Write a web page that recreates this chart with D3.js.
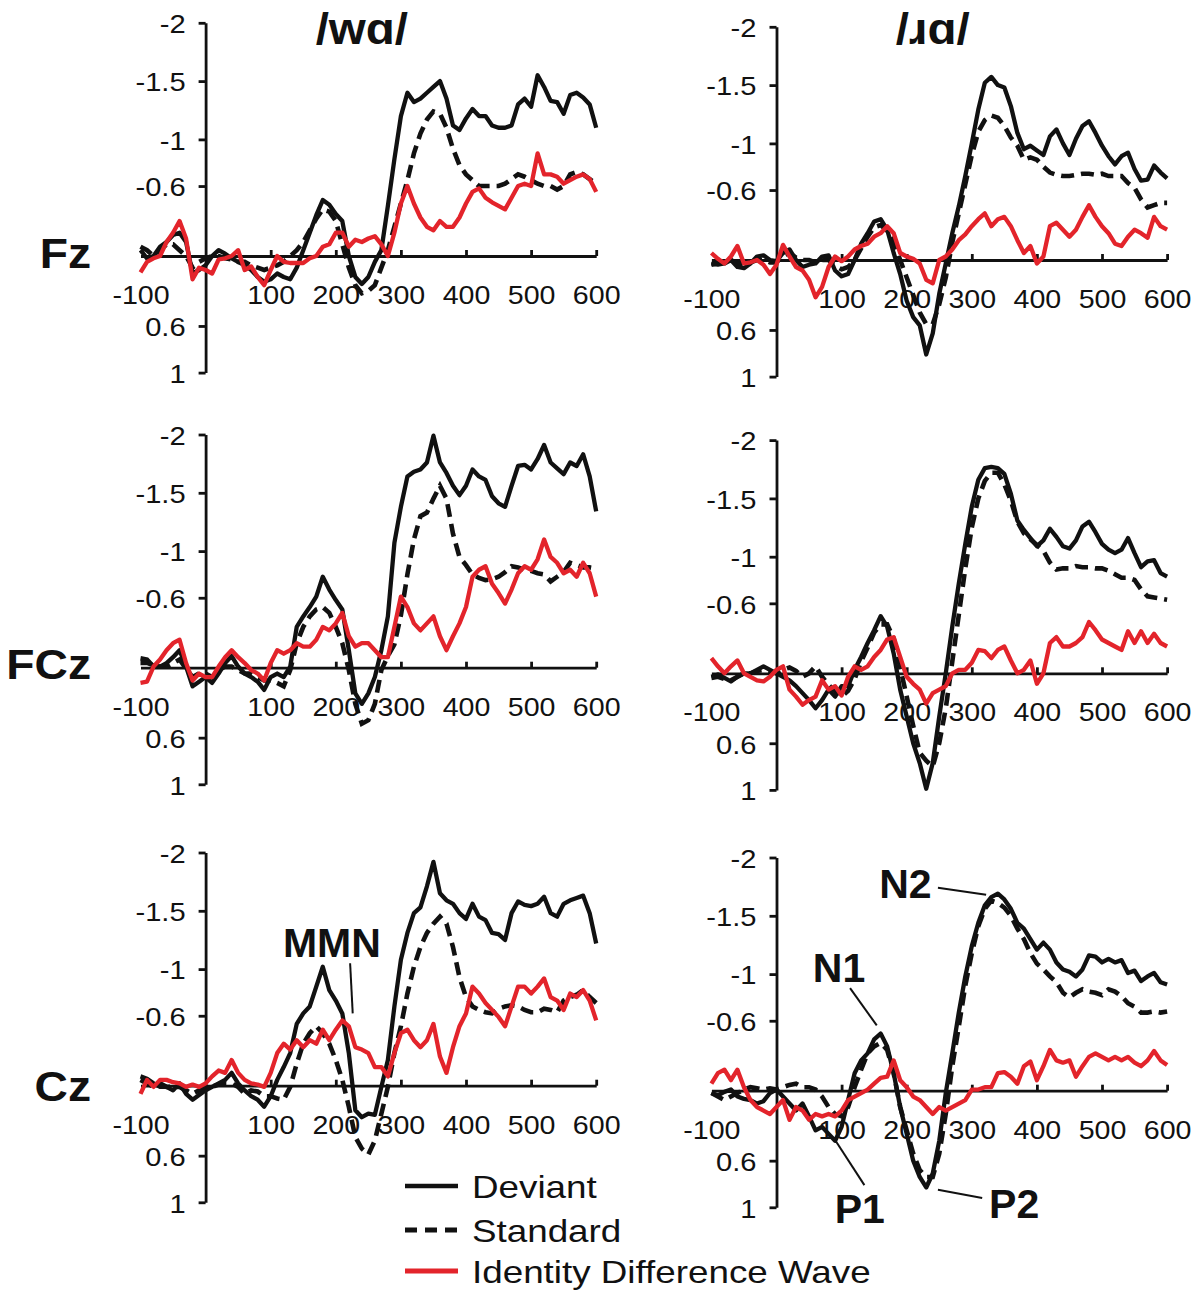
<html><head>
<meta charset="utf-8">
<title>ERP waveforms: /wɑ/ and /ɹɑ/</title>
<style>
  body { margin: 0; background: #fff; }
  svg text { font-family: "Liberation Sans", Arial, Helvetica, sans-serif; fill: #111; }
</style>
<script src="https://d3js.org/d3.v7.min.js"></script>
</head>
<body>
<div id="chart"></div>
<script>
// time axis (ms), one sample every 10 ms
const times = [-100, -90, -80, -70, -60, -50, -40, -30, -20, -10,
  0, 10, 20, 30, 40, 50, 60, 70, 80, 90,
  100, 110, 120, 130, 140, 150, 160, 170, 180, 190,
  200, 210, 220, 230, 240, 250, 260, 270, 280, 290,
  300, 310, 320, 330, 340, 350, 360, 370, 380, 390,
  400, 410, 420, 430, 440, 450, 460, 470, 480, 490,
  500, 510, 520, 530, 540, 550, 560, 570, 580, 590,
  600];

const rowNames = ["Fz", "FCz", "Cz"];
const colNames = ["/wɑ/", "/ɹɑ/"];
const xTicks = [-100, 100, 200, 300, 400, 500, 600];
const yTicks = [-2, -1.5, -1, -0.6, 0.6, 1];
const legendNames = ["Deviant", "Standard", "Identity Difference Wave"];

// ---- Fz ----
const fzWaDev = [-0.05, 0.02, 0.0, -0.08, -0.12, -0.18, -0.2, -0.12, 0.15, 0.12,
  0.08, 0.0, -0.05, -0.02, 0.02, 0.05, 0.08, 0.12, 0.18, 0.22,
  0.2, 0.15, 0.18, 0.2, 0.1, -0.05, -0.2, -0.35, -0.48, -0.44,
  -0.36, -0.3, 0.0, 0.18, 0.24, 0.18, 0.05, -0.05, -0.43, -0.83,
  -1.2, -1.4, -1.32, -1.35, -1.4, -1.45, -1.5, -1.35, -1.12, -1.08,
  -1.18, -1.26, -1.2, -1.2, -1.12, -1.1, -1.1, -1.12, -1.3, -1.35,
  -1.28, -1.55, -1.45, -1.33, -1.32, -1.22, -1.38, -1.4, -1.36, -1.3,
  -1.1];
const fzWaStd = [-0.08, -0.05, 0.0, -0.05, -0.1, -0.1, -0.05, 0.0, 0.1, 0.05,
  0.02, 0.0, 0.0, 0.02, 0.03, 0.05, 0.05, 0.08, 0.1, 0.12,
  0.1, 0.08, 0.05, 0.0, -0.05, -0.12, -0.22, -0.32, -0.4, -0.38,
  -0.3, -0.1, 0.1, 0.25, 0.32, 0.3, 0.25, 0.1, -0.05, -0.25,
  -0.45, -0.65, -0.88, -1.05, -1.17, -1.24, -1.22, -1.1, -0.92, -0.78,
  -0.7, -0.65, -0.6, -0.6, -0.6, -0.6, -0.62, -0.66, -0.7, -0.68,
  -0.65, -0.62, -0.6, -0.6, -0.57, -0.6, -0.7, -0.72, -0.7, -0.66,
  -0.62];
const fzWaDiff = [0.14, 0.05, 0.02, 0.0, -0.12, -0.2, -0.3, -0.15, 0.2, 0.1,
  0.12, 0.15, 0.03, 0.02, 0.0, -0.05, 0.12, 0.09, 0.18, 0.25,
  0.12, 0.0, 0.05, 0.06, 0.06, 0.06, 0.02, 0.0, -0.08, -0.1,
  -0.2, -0.2, -0.08, -0.14, -0.12, -0.15, -0.17, -0.1, 0.0, -0.2,
  -0.45, -0.6, -0.45, -0.33, -0.25, -0.22, -0.3, -0.25, -0.25, -0.33,
  -0.45, -0.55, -0.58, -0.5, -0.46, -0.43, -0.4, -0.5, -0.6, -0.62,
  -0.6, -0.88, -0.7, -0.7, -0.68, -0.62, -0.65, -0.68, -0.7, -0.66,
  -0.55];
const fzRaDev = [0.03, 0.04, 0.03, 0.0, 0.06, 0.07, 0.03, -0.03, -0.04, 0.0,
  0.01, -0.06, -0.09, 0.0, 0.06, 0.04, 0.03, -0.03, -0.04, 0.09,
  0.14, 0.12, 0.0, -0.14, -0.23, -0.33, -0.35, -0.26, -0.06, 0.12,
  0.35, 0.49, 0.56, 0.81, 0.63, 0.29, 0.03, -0.23, -0.46, -0.72,
  -1.0, -1.29, -1.52, -1.57, -1.5, -1.48, -1.32, -1.09, -0.95, -0.98,
  -0.94, -0.9, -1.06, -1.12, -1.0, -0.9, -1.04, -1.15, -1.19, -1.09,
  -0.98, -0.89, -0.82, -0.89, -0.92, -0.78, -0.68, -0.69, -0.81, -0.75,
  -0.7];
const fzRaStd = [0.04, 0.03, 0.02, 0.0, 0.03, 0.04, 0.02, 0.0, 0.0, 0.02,
  0.02, -0.04, -0.06, -0.02, 0.0, 0.0, 0.02, 0.0, 0.0, 0.05,
  0.08, 0.06, 0.0, -0.1, -0.2, -0.28, -0.3, -0.25, -0.15, 0.0,
  0.15, 0.3, 0.45, 0.55, 0.55, 0.38, 0.15, -0.15, -0.4, -0.65,
  -0.9, -1.1, -1.2, -1.24, -1.22, -1.15, -1.05, -0.98, -0.86, -0.88,
  -0.86, -0.8, -0.75, -0.73, -0.72, -0.72, -0.73, -0.74, -0.74, -0.73,
  -0.74, -0.72, -0.72, -0.72, -0.66, -0.62, -0.52, -0.45, -0.47, -0.49,
  -0.49];
const fzRaDiff = [-0.06, -0.01, 0.03, -0.03, -0.12, 0.03, 0.02, 0.0, 0.04, 0.12,
  0.04, -0.13, -0.03, 0.06, 0.09, 0.17, 0.32, 0.23, 0.06, -0.03,
  0.01, -0.03, -0.09, -0.12, -0.14, -0.2, -0.23, -0.29, -0.23, -0.06,
  -0.03, -0.01, 0.03, 0.17, 0.2, 0.0, -0.03, -0.09, -0.17, -0.22,
  -0.29, -0.35, -0.4, -0.29, -0.35, -0.37, -0.29, -0.17, -0.06, -0.12,
  0.03, -0.03, -0.29, -0.32, -0.26, -0.2, -0.26, -0.37, -0.47, -0.37,
  -0.29, -0.23, -0.14, -0.12, -0.2, -0.26, -0.23, -0.19, -0.37, -0.29,
  -0.26];

// ---- FCz ----
const fczWaDev = [-0.04, -0.04, -0.02, -0.01, -0.04, -0.09, -0.15, -0.01, 0.16, 0.12,
  0.08, 0.13, 0.05, -0.04, -0.1, -0.01, 0.05, 0.08, 0.12, 0.19,
  0.08, 0.05, 0.08, -0.01, -0.35, -0.44, -0.52, -0.61, -0.78, -0.67,
  -0.58, -0.5, -0.15, 0.22, 0.31, 0.22, 0.08, -0.15, -0.44, -1.07,
  -1.38, -1.64, -1.68, -1.7, -1.76, -1.99, -1.76, -1.67, -1.56, -1.48,
  -1.56, -1.7, -1.64, -1.61, -1.47, -1.41, -1.38, -1.56, -1.73, -1.74,
  -1.7, -1.79, -1.91, -1.76, -1.71, -1.66, -1.76, -1.73, -1.83, -1.64,
  -1.34];
const fczWaStd = [-0.08, -0.07, -0.01, -0.01, -0.01, -0.04, -0.07, 0.01, 0.08, 0.05,
  0.05, 0.08, 0.02, -0.01, -0.01, 0.02, 0.05, 0.05, 0.08, 0.11,
  0.11, 0.13, 0.16, 0.02, -0.21, -0.35, -0.44, -0.5, -0.52, -0.47,
  -0.35, -0.21, 0.02, 0.31, 0.48, 0.45, 0.31, 0.02, -0.1, -0.2,
  -0.45, -0.8, -1.1, -1.3, -1.33, -1.45, -1.56, -1.45, -1.15, -0.95,
  -0.88, -0.8, -0.77, -0.75, -0.76, -0.78, -0.82, -0.87, -0.86, -0.84,
  -0.83, -0.81, -0.8, -0.74, -0.78, -0.82, -0.9, -0.88, -0.86, -0.86,
  -0.85];
const fczWaDiff = [0.13, 0.12, -0.01, -0.07, -0.15, -0.21, -0.24, -0.04, 0.11, 0.05,
  0.08, 0.08, -0.01, -0.09, -0.15, -0.09, -0.04, 0.02, 0.05, 0.11,
  -0.04, -0.15, -0.12, -0.15, -0.21, -0.18, -0.18, -0.24, -0.35, -0.32,
  -0.38, -0.47, -0.27, -0.18, -0.21, -0.21, -0.15, -0.09, -0.09, -0.35,
  -0.61, -0.52, -0.38, -0.32, -0.38, -0.44, -0.27, -0.15, -0.27, -0.38,
  -0.52, -0.78, -0.84, -0.87, -0.72, -0.64, -0.55, -0.67, -0.81, -0.87,
  -0.84, -0.93, -1.1, -0.95, -0.9, -0.81, -0.84, -0.78, -0.9, -0.81,
  -0.61];
const fczRaDev = [0.03, 0.01, 0.04, 0.07, 0.03, 0.0, 0.0, -0.03, -0.06, -0.03,
  0.0, 0.03, 0.06, 0.11, 0.17, 0.23, 0.3, 0.23, 0.14, 0.2,
  0.11, 0.11, -0.03, -0.14, -0.26, -0.37, -0.49, -0.4, -0.17, 0.14,
  0.37, 0.6, 0.77, 0.99, 0.77, 0.37, 0.0, -0.4, -0.77, -1.11,
  -1.43, -1.66, -1.76, -1.77, -1.76, -1.71, -1.54, -1.31, -1.23, -1.16,
  -1.09, -1.14, -1.24, -1.17, -1.09, -1.07, -1.14, -1.26, -1.3, -1.21,
  -1.11, -1.06, -1.03, -1.06, -1.16, -1.03, -0.91, -0.96, -0.97, -0.86,
  -0.83];
const fczRaStd = [0.04, 0.03, 0.05, 0.06, 0.03, 0.0, 0.0, -0.02, -0.03, -0.02,
  0.0, -0.03, -0.05, -0.02, 0.03, 0.0, -0.06, 0.03, 0.1, 0.15,
  0.2, 0.15, 0.05, -0.1, -0.22, -0.35, -0.42, -0.42, -0.3, -0.05,
  0.2, 0.45, 0.68, 0.75, 0.8, 0.6, 0.3, -0.1, -0.5, -0.9,
  -1.25, -1.5, -1.65, -1.72, -1.72, -1.62, -1.48, -1.3, -1.2, -1.15,
  -1.1, -1.05, -0.95, -0.89, -0.9, -0.9, -0.92, -0.91, -0.91, -0.9,
  -0.9, -0.88, -0.85, -0.82, -0.82, -0.8, -0.72, -0.66, -0.65, -0.64,
  -0.63];
const fczRaDiff = [-0.13, -0.06, 0.0, -0.06, -0.11, 0.0, 0.03, 0.06, 0.07, 0.03,
  -0.03, -0.06, 0.14, 0.2, 0.27, 0.23, 0.2, 0.06, 0.14, 0.11,
  0.19, 0.03, -0.06, -0.03, -0.06, -0.14, -0.2, -0.29, -0.31, -0.14,
  0.03, 0.09, 0.14, 0.26, 0.17, 0.14, 0.11, 0.0, -0.03, -0.03,
  -0.09, -0.2, -0.19, -0.13, -0.2, -0.23, -0.11, 0.0, -0.03, -0.11,
  0.09, 0.0, -0.26, -0.31, -0.23, -0.23, -0.26, -0.31, -0.44, -0.37,
  -0.29, -0.26, -0.23, -0.2, -0.36, -0.26, -0.36, -0.26, -0.34, -0.26,
  -0.23];

// ---- Cz ----
const czWaDev = [-0.08, -0.06, -0.02, 0.01, 0.01, 0.04, -0.02, 0.07, 0.12, 0.08,
  0.04, 0.01, -0.02, -0.05, -0.11, -0.02, 0.04, 0.09, 0.12, 0.18,
  0.09, -0.05, -0.16, -0.28, -0.53, -0.62, -0.68, -0.85, -1.02, -0.82,
  -0.73, -0.62, -0.28, 0.21, 0.27, 0.24, 0.25, 0.01, -0.22, -0.68,
  -1.08, -1.31, -1.48, -1.53, -1.71, -1.92, -1.65, -1.59, -1.56, -1.48,
  -1.43, -1.56, -1.45, -1.42, -1.31, -1.3, -1.25, -1.48, -1.58, -1.55,
  -1.54, -1.56, -1.62, -1.48, -1.45, -1.56, -1.59, -1.61, -1.63, -1.48,
  -1.22];
const czWaStd = [-0.05, -0.02, 0.01, -0.02, 0.01, 0.01, 0.01, 0.04, 0.07, 0.04,
  0.02, 0.01, -0.01, -0.02, -0.02, 0.01, 0.07, 0.04, 0.05, 0.09,
  0.09, 0.11, 0.12, 0.01, -0.19, -0.36, -0.45, -0.51, -0.45, -0.36,
  -0.22, -0.05, 0.18, 0.44, 0.54, 0.59, 0.47, 0.24, 0.01, -0.28,
  -0.51, -0.79, -1.02, -1.19, -1.31, -1.39, -1.45, -1.39, -1.19, -0.93,
  -0.76, -0.68, -0.65, -0.63, -0.62, -0.66, -0.68, -0.69, -0.68, -0.65,
  -0.63, -0.63, -0.66, -0.65, -0.63, -0.73, -0.76, -0.78, -0.82, -0.76,
  -0.71];
const czWaDiff = [0.07, -0.05, 0.01, -0.05, -0.05, -0.03, -0.02, 0.01, -0.01, 0.01,
  -0.02, -0.08, -0.13, -0.11, -0.22, -0.11, -0.05, -0.02, -0.01, 0.01,
  -0.11, -0.28, -0.36, -0.31, -0.39, -0.33, -0.39, -0.36, -0.48, -0.39,
  -0.48, -0.56, -0.51, -0.33, -0.31, -0.28, -0.16, -0.16, -0.08, -0.28,
  -0.45, -0.48, -0.39, -0.33, -0.39, -0.53, -0.25, -0.11, -0.33, -0.51,
  -0.62, -0.85, -0.79, -0.71, -0.65, -0.59, -0.51, -0.68, -0.85, -0.85,
  -0.79, -0.85, -0.92, -0.76, -0.73, -0.65, -0.79, -0.76, -0.82, -0.73,
  -0.56];
const czRaDev = [0.02, 0.04, 0.01, -0.01, 0.05, 0.07, 0.08, 0.11, 0.09, 0.02,
  -0.01, 0.05, 0.11, 0.17, 0.11, 0.22, 0.34, 0.31, 0.37, 0.43,
  0.31, 0.08, -0.15, -0.26, -0.32, -0.44, -0.49, -0.38, -0.15, 0.14,
  0.37, 0.6, 0.74, 0.83, 0.71, 0.43, 0.02, -0.32, -0.67, -0.98,
  -1.24, -1.44, -1.59, -1.66, -1.69, -1.64, -1.56, -1.44, -1.39, -1.3,
  -1.21, -1.27, -1.21, -1.1, -1.04, -1.02, -0.98, -1.04, -1.16, -1.15,
  -1.1, -1.13, -1.1, -1.12, -1.01, -1.03, -0.94, -0.98, -1.01, -0.93,
  -0.91];
const czRaStd = [0.02, 0.05, 0.08, 0.05, 0.02, -0.01, -0.03, -0.02, -0.01, -0.02,
  -0.01, -0.03, -0.05, -0.06, -0.03, -0.03, -0.01, 0.05, 0.14, 0.2,
  0.22, 0.14, -0.03, -0.18, -0.32, -0.38, -0.41, -0.35, -0.15, 0.14,
  0.34, 0.54, 0.68, 0.74, 0.74, 0.54, 0.2, -0.21, -0.55, -0.9,
  -1.18, -1.41, -1.56, -1.63, -1.61, -1.57, -1.5, -1.39, -1.3, -1.18,
  -1.09, -1.04, -0.98, -0.93, -0.84, -0.8, -0.84, -0.87, -0.85, -0.84,
  -0.82, -0.87, -0.85, -0.81, -0.75, -0.72, -0.67, -0.67, -0.68, -0.67,
  -0.68];
const czRaDiff = [-0.06, -0.15, -0.18, -0.09, -0.18, -0.03, 0.08, 0.14, 0.17, 0.2,
  0.14, 0.08, 0.25, 0.14, 0.17, 0.25, 0.2, 0.22, 0.2, 0.22,
  0.17, 0.08, 0.05, 0.02, -0.01, -0.06, -0.11, -0.12, -0.26, -0.09,
  -0.03, 0.05, 0.08, 0.14, 0.2, 0.14, 0.17, 0.14, 0.11, 0.08,
  -0.01, -0.01, -0.03, -0.03, -0.15, -0.16, -0.12, -0.06, -0.21, -0.25,
  -0.09, -0.21, -0.35, -0.26, -0.24, -0.26, -0.12, -0.21, -0.29, -0.32,
  -0.29, -0.26, -0.29, -0.26, -0.29, -0.24, -0.21, -0.26, -0.34, -0.26,
  -0.22];

// which series belong to which panel [row][col]
const panelData = [
  [{ dev: fzWaDev, std: fzWaStd, diff: fzWaDiff }, { dev: fzRaDev, std: fzRaStd, diff: fzRaDiff }],
  [{ dev: fczWaDev, std: fczWaStd, diff: fczWaDiff }, { dev: fczRaDev, std: fczRaStd, diff: fczRaDiff }],
  [{ dev: czWaDev, std: czWaStd, diff: czWaDiff }, { dev: czRaDev, std: czRaStd, diff: czRaDiff }]
];

// peak labels, placed in data units of their panel
const annotations = [
  { row: 2, col: 0, text: "MMN", t: 194, v: -1.1, line: [[222, -1.05], [226, -0.62]] },
  { row: 2, col: 1, text: "N2", t: 198, v: -1.65, line: [[248, -1.74], [322, -1.68]] },
  { row: 2, col: 1, text: "N1", t: 96, v: -0.93, line: [[113, -0.88], [154, -0.56]] },
  { row: 2, col: 1, text: "P1", t: 128, v: 1.135, line: [[92, 0.44], [135, 0.81]] },
  { row: 2, col: 1, text: "P2", t: 365, v: 1.09, line: [[248, 0.85], [316, 0.92]] }
];

// ---- layout ----
const width = 1191, height = 1300;
const colZeroX = [205.6, 776.5];
const rowZeroY = [[256, 667.7, 1085.7], [260, 673.3, 1090.7]];
const rowLabelY = [268, 679, 1101];
const pxPer100 = 65.1, pxPerUnit = 116.6;
const red = "#e3242b", ink = "#111";

const svg = d3.select("#chart").append("svg")
  .attr("width", width).attr("height", height);

// the original figure is slightly stretched sideways; widen glyphs to match
function stretch(sel, sx) {
  sel.each(function() {
    const t = d3.select(this);
    const x = +t.attr("x") || 0, y = +t.attr("y") || 0;
    t.attr("transform", `translate(${x},${y}) scale(${sx},1) translate(${-x},${-y})`);
  });
}

function scalesFor(r, c) {
  const x0 = colZeroX[c], y0 = rowZeroY[c][r];
  const x = d3.scaleLinear().domain([-100, 600]).range([x0 - pxPer100, x0 + 6 * pxPer100]);
  const y = d3.scaleLinear().domain([-2, 1]).range([y0 - 2 * pxPerUnit, y0 + pxPerUnit]);
  return { x, y };
}

// plain hyphen minus, as in the original labels
const plain = d => String(d);

for (let r = 0; r < 3; r++) {
  for (let c = 0; c < 2; c++) {
    const { x, y } = scalesFor(r, c);
    const g = svg.append("g");

    // y axis through t = 0
    const ya = g.append("g")
      .attr("transform", `translate(${x(0)},0)`)
      .call(d3.axisLeft(y).tickValues(yTicks).tickSize(7).tickSizeOuter(0)
        .tickPadding(13).tickFormat(plain));
    ya.select(".domain").attr("stroke", ink).attr("stroke-width", 2.8);
    ya.selectAll(".tick line").attr("stroke", ink).attr("stroke-width", 2.8);
    ya.selectAll("text").attr("font-size", 26).attr("dy", "0.38em")
      .attr("font-family", "Liberation Sans, Arial, sans-serif").attr("fill", ink);
    stretch(ya.selectAll("text"), 1.12);

    // x axis through 0 µV
    const xa = g.append("g")
      .attr("transform", `translate(0,${y(0)})`)
      .call(d3.axisBottom(x).tickValues(xTicks).tickSize(-6).tickSizeOuter(0)
        .tickPadding(29.5).tickFormat(plain));
    xa.select(".domain").attr("stroke", ink).attr("stroke-width", 2.8);
    xa.selectAll(".tick line").attr("stroke", ink).attr("stroke-width", 2.8)
      .attr("opacity", d => d === -100 ? 0 : 1);
    xa.selectAll("text").attr("font-size", 26)
      .attr("font-family", "Liberation Sans, Arial, sans-serif").attr("fill", ink);
    stretch(xa.selectAll("text"), 1.1);

    const line = vals => d3.line()
      .x((d, i) => x(times[i]))
      .y(d => y(d))(vals);

    const p = panelData[r][c];
    g.append("path").attr("d", line(p.std)).attr("fill", "none")
      .attr("stroke", ink).attr("stroke-width", 4.6).attr("stroke-dasharray", "13,7");
    g.append("path").attr("d", line(p.dev)).attr("fill", "none")
      .attr("stroke", ink).attr("stroke-width", 4.3).attr("stroke-linejoin", "round");
    g.append("path").attr("d", line(p.diff)).attr("fill", "none")
      .attr("stroke", red).attr("stroke-width", 4.3).attr("stroke-linejoin", "round");
  }
}

// column titles
colNames.forEach((name, c) => {
  const { x } = scalesFor(0, c);
  const t = svg.append("text")
    .attr("x", x(240)).attr("y", 44)
    .attr("text-anchor", "middle").attr("font-size", 44).attr("font-weight", "bold")
    .text(name);
  stretch(t, 1.08);
});

// electrode labels
rowNames.forEach((name, r) => {
  const t = svg.append("text")
    .attr("x", 91).attr("y", rowLabelY[r])
    .attr("text-anchor", "end").attr("font-size", 42).attr("font-weight", "bold")
    .text(name);
  stretch(t, 1.1);
});

// peak annotations
annotations.forEach(a => {
  const { x, y } = scalesFor(a.row, a.col);
  svg.append("line")
    .attr("x1", x(a.line[0][0])).attr("y1", y(a.line[0][1]))
    .attr("x2", x(a.line[1][0])).attr("y2", y(a.line[1][1]))
    .attr("stroke", ink).attr("stroke-width", 2);
  svg.append("text")
    .attr("x", x(a.t)).attr("y", y(a.v))
    .attr("text-anchor", "middle").attr("font-size", 41).attr("font-weight", "bold")
    .text(a.text);
});

// legend
const legendStyles = [
  { stroke: ink, dash: null, w: 4.5 },
  { stroke: ink, dash: "12,8", w: 5 },
  { stroke: red, dash: null, w: 5 }
];
const legendBase = [1198, 1242, 1283];
legendNames.forEach((name, i) => {
  const s = legendStyles[i];
  svg.append("line")
    .attr("x1", 405).attr("x2", 458)
    .attr("y1", legendBase[i] - 12).attr("y2", legendBase[i] - 12)
    .attr("stroke", s.stroke).attr("stroke-width", s.w)
    .attr("stroke-dasharray", s.dash);
  const t = svg.append("text")
    .attr("x", 472).attr("y", legendBase[i])
    .attr("font-size", 32).text(name);
  stretch(t, 1.15);
});
</script>
</body></html>
